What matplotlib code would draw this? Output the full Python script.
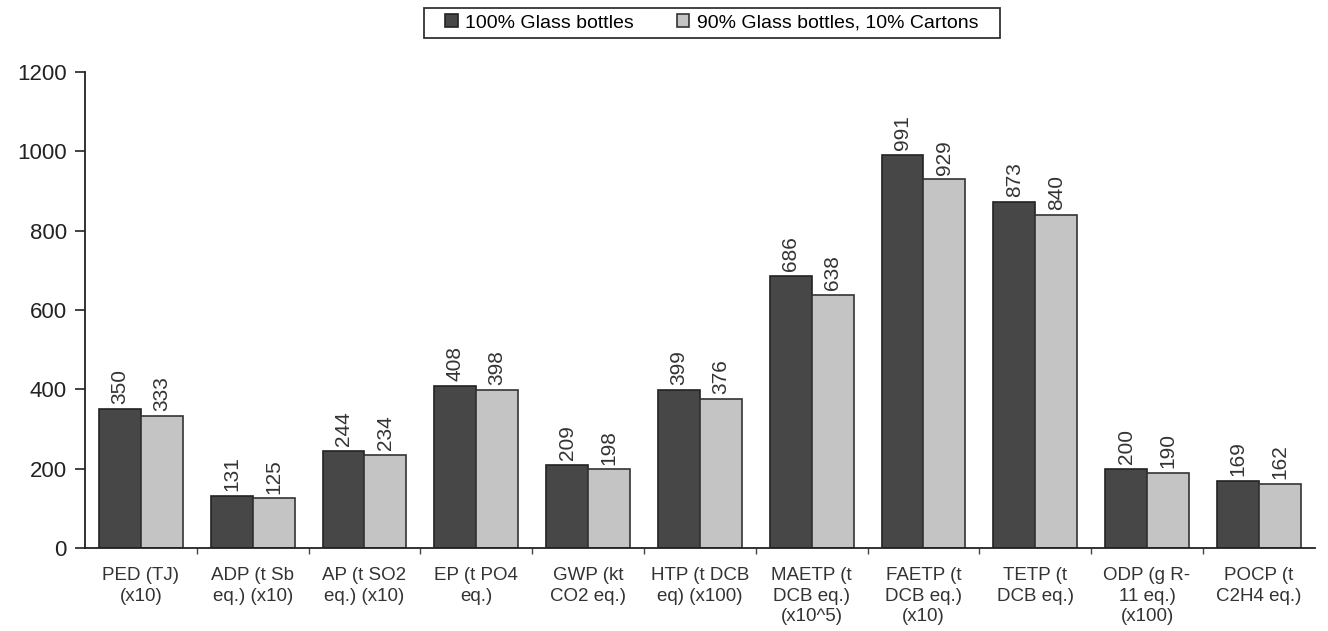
import matplotlib.pyplot as plt
import numpy as np
from matplotlib.patches import Rectangle

plt.rcParams["font.family"] = ["Liberation Sans", "DejaVu Sans"]

categories = [
    "PED (TJ)\n(x10)",
    "ADP (t Sb\neq.) (x10)",
    "AP (t SO2\neq.) (x10)",
    "EP (t PO4\neq.)",
    "GWP (kt\nCO2 eq.)",
    "HTP (t DCB\neq) (x100)",
    "MAETP (t\nDCB eq.)\n(x10^5)",
    "FAETP (t\nDCB eq.)\n(x10)",
    "TETP (t\nDCB eq.)",
    "ODP (g R-\n11 eq.)\n(x100)",
    "POCP (t\nC2H4 eq.)",
]
glass_100 = [350, 131, 244, 408, 209, 399, 686, 991, 873, 200, 169]
glass_90_cartons_10 = [333, 125, 234, 398, 198, 376, 638, 929, 840, 190, 162]
series_names = ["100% Glass bottles", "90% Glass bottles, 10% Cartons"]

fig = plt.figure(figsize=(13.28, 6.31), dpi=100)
ax = fig.add_axes([0.064, 0.1315, 0.926, 0.7545])

x = np.arange(len(categories))
w = 0.375
b1 = ax.bar(x - w / 2, glass_100, w, color="#474747", edgecolor="#222222",
            linewidth=1.2, label=series_names[0])
b2 = ax.bar(x + w / 2, glass_90_cartons_10, w, color="#c4c4c4", edgecolor="#333333",
            linewidth=1.2, label=series_names[1])

for bars in (b1, b2):
    for r in bars:
        ax.text(r.get_x() + r.get_width() / 2, r.get_height() + 12, f"{r.get_height():.0f}",
                rotation=90, ha="center", va="bottom", fontsize=15, color="#333333")

ax.set_xlim(-0.5, len(categories) - 0.5)
ax.set_ylim(0, 1200)
ax.set_yticks(range(0, 1201, 200))
ax.tick_params(axis="y", labelsize=16, length=7, width=1.2, direction="out",
               colors="#222222", pad=6)

ax.set_xticks(x)
ax.set_xticklabels(categories, fontsize=13.5, color="#333333", linespacing=1.25)
ax.tick_params(axis="x", length=0, pad=14)
ax.set_xticks(np.arange(0.5, len(categories) - 0.5), minor=True)
ax.tick_params(axis="x", which="minor", length=4, width=1, color="#444444")

for s in ("top", "right"):
    ax.spines[s].set_visible(False)
ax.spines["left"].set_linewidth(1.3)
ax.spines["bottom"].set_linewidth(1.3)
ax.spines["left"].set_color("#222222")
ax.spines["bottom"].set_color("#222222")

leg = fig.legend(loc="center", bbox_to_anchor=(0.536, 1 - 23 / 631), ncol=2,
                 fontsize=14, frameon=False, handlelength=0.62, handleheight=0.62,
                 handletextpad=0.4, columnspacing=2.2, borderpad=0.4)

# box round the legend, wider on the sides than matplotlib's borderpad allows
fig.canvas.draw()
bb = leg.get_window_extent()
fig.patches.append(Rectangle((bb.x0 - 14, bb.y0 + 1), bb.width + 28, bb.height - 2,
                             transform=None, fill=False, edgecolor="#333333",
                             linewidth=1.3))

fig.savefig("out.png", dpi=100)
